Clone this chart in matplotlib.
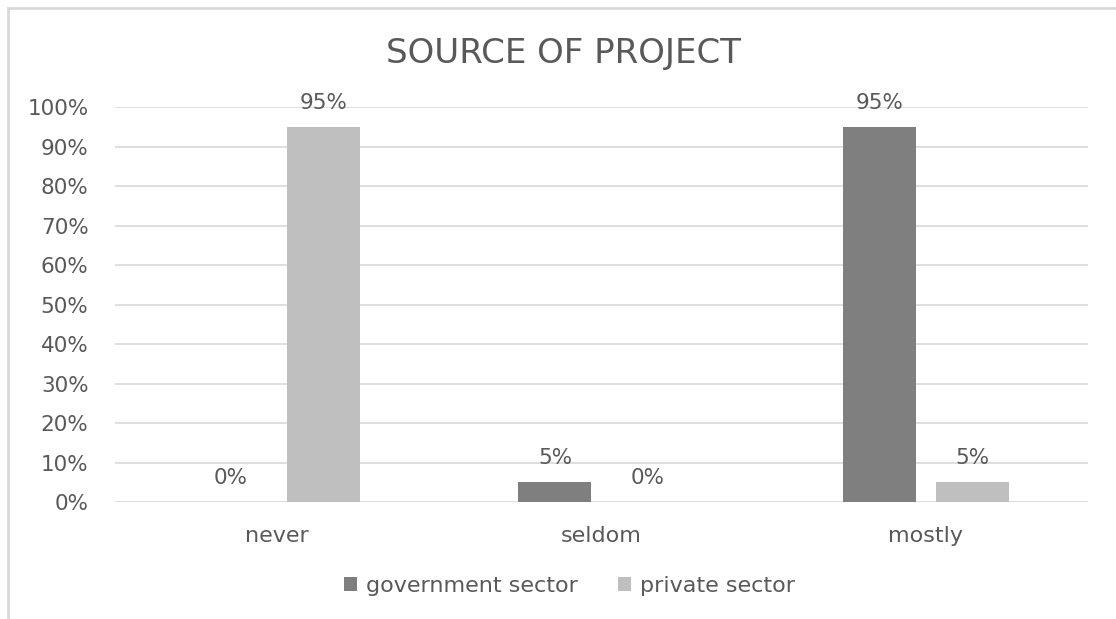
import numpy as np
import matplotlib.pyplot as plt
from matplotlib.lines import Line2D

# survey answers per category
categories = ['never', 'seldom', 'mostly']
government = [0, 5, 95]
private = [95, 0, 5]
series_names = ['government sector', 'private sector']
colors = ['#7f7f7f', '#bfbfbf']
text_col = '#595959'

plt.rcParams['font.family'] = ['DejaVu Sans']

fig = plt.figure(figsize=(11.16, 6.19), dpi=100)
ax = fig.add_axes([0.103, 0.189, 0.872, 0.638])

x = np.arange(len(categories))
width = 0.225
offset = 0.1435

bars_g = ax.bar(x - offset, government, width, color=colors[0], label=series_names[0], zorder=3)
bars_p = ax.bar(x + offset, private, width, color=colors[1], label=series_names[1], zorder=3)

# value labels above each bar
for bars, vals in [(bars_g, government), (bars_p, private)]:
    for b, v in zip(bars, vals):
        ax.annotate(f'{v}%', (b.get_x() + b.get_width() / 2, v), xytext=(0, 10),
                    textcoords='offset points', ha='center', va='bottom',
                    fontsize=15.5, color=text_col)

ax.set_xlim(-0.5, 2.5)
ax.set_ylim(0, 100)
ax.set_yticks(np.arange(0, 101, 10))
ax.set_yticklabels([f'{t}%' for t in range(0, 101, 10)])
ax.set_xticks(x)
ax.set_xticklabels(categories)
ax.tick_params(axis='both', length=0, labelsize=15.5, labelcolor=text_col)
ax.tick_params(axis='x', pad=17, labelsize=16)
ax.tick_params(axis='y', pad=19)
ax.grid(axis='y', color='#d9d9d9', linewidth=1.2, zorder=0)
for s in ax.spines.values():
    s.set_visible(False)

fig.text(0.5045, 0.913, 'SOURCE OF PROJECT', ha='center', va='center',
         fontsize=24.5, color=text_col)

fig.legend(loc='center', bbox_to_anchor=(0.51, 0.053), ncol=2, frameon=False,
           fontsize=16, labelcolor=text_col, handlelength=0.6, handleheight=0.6,
           handletextpad=0.4, columnspacing=1.8)

# chart frame: top and left edges only
top = 1 - 8 / 619
left = 8 / 1116
fig.add_artist(Line2D([left, 1.0], [top, top], transform=fig.transFigure,
                      color='#d9d9d9', linewidth=2))
fig.add_artist(Line2D([left, left], [0, top], transform=fig.transFigure,
                      color='#d9d9d9', linewidth=2))

fig.savefig('out.png', dpi=100)
